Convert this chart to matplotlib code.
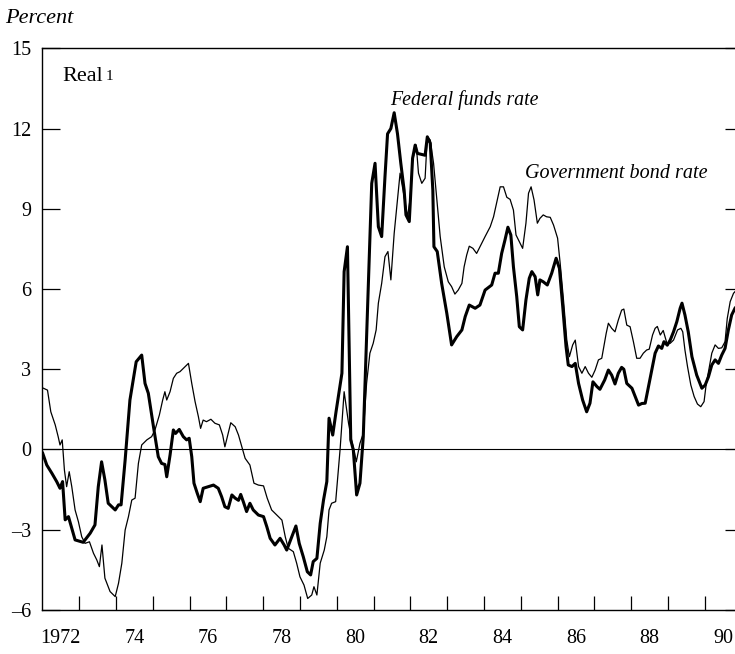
import matplotlib
matplotlib.use("Agg")
import matplotlib.pyplot as plt
import numpy as np

plt.rcParams["font.family"] = ["Liberation Serif", "DejaVu Serif"]

# Real federal funds rate (thick line), decimal years
ff_year = [1972.01, 1972.12, 1972.26, 1972.39, 1972.48, 1972.55, 1972.62, 1972.71, 1972.89,
           1973.11, 1973.30, 1973.43, 1973.52, 1973.61, 1973.70, 1973.79, 1973.98,
           1974.07, 1974.14, 1974.25, 1974.38, 1974.55, 1974.70, 1974.79, 1974.88,
           1975.02, 1975.15, 1975.24, 1975.33, 1975.38, 1975.47, 1975.56, 1975.62, 1975.72,
           1975.83, 1975.92, 1975.99, 1976.06, 1976.12, 1976.21, 1976.29, 1976.37, 1976.51,
           1976.65, 1976.78, 1976.87, 1976.96, 1977.05, 1977.15, 1977.24, 1977.33, 1977.39,
           1977.46, 1977.55, 1977.64, 1977.73, 1977.87, 1978.01, 1978.10, 1978.19, 1978.32,
           1978.46, 1978.57, 1978.64, 1978.78, 1978.89, 1978.98, 1979.09, 1979.20, 1979.29,
           1979.36, 1979.46, 1979.55, 1979.64, 1979.73, 1979.79, 1979.89, 1979.98, 1980.14,
           1980.20, 1980.29, 1980.38, 1980.45, 1980.54, 1980.63, 1980.72, 1980.95, 1981.04,
           1981.13, 1981.22, 1981.31, 1981.38, 1981.47, 1981.56, 1981.65, 1981.74, 1981.83,
           1981.88, 1981.97, 1982.06, 1982.13, 1982.19, 1982.31, 1982.40, 1982.46, 1982.54,
           1982.61, 1982.64, 1982.73, 1982.85, 1982.99, 1983.12, 1983.26, 1983.40, 1983.49,
           1983.60, 1983.76, 1983.89, 1984.03, 1984.21, 1984.30, 1984.39, 1984.48, 1984.57,
           1984.65, 1984.73, 1984.80, 1984.89, 1984.96, 1985.05, 1985.14, 1985.23, 1985.30,
           1985.39, 1985.46, 1985.52, 1985.61, 1985.72, 1985.84, 1985.96, 1986.05, 1986.14,
           1986.23, 1986.29, 1986.39, 1986.48, 1986.57, 1986.68, 1986.79, 1986.88, 1986.96,
           1987.07, 1987.15, 1987.28, 1987.38, 1987.47, 1987.56, 1987.65, 1987.74, 1987.80,
           1987.88, 1988.02, 1988.11, 1988.20, 1988.29, 1988.38, 1988.47, 1988.56, 1988.65,
           1988.74, 1988.83, 1988.89, 1988.98, 1989.06, 1989.15, 1989.24, 1989.33, 1989.38,
           1989.46, 1989.55, 1989.65, 1989.78, 1989.92, 1990.01, 1990.10, 1990.19, 1990.28,
           1990.37, 1990.46, 1990.55, 1990.64, 1990.73, 1990.82]
ff_rate = [-0.14, -0.58, -0.89, -1.20, -1.45, -1.20, -2.63, -2.51, -3.38,
           -3.47, -3.13, -2.82, -1.39, -0.46, -1.14, -2.01, -2.26,
           -2.07, -2.07, -0.39, 1.85, 3.28, 3.53, 2.47, 2.10,
           0.85, -0.27, -0.52, -0.56, -1.02, -0.21, 0.73, 0.60, 0.75,
           0.48, 0.36, 0.42, -0.27, -1.26, -1.64, -1.95, -1.45, -1.39,
           -1.33, -1.45, -1.76, -2.14, -2.20, -1.70, -1.82, -1.90, -1.68,
           -1.95, -2.32, -2.01, -2.26, -2.45, -2.51, -2.89, -3.32, -3.57,
           -3.32, -3.57, -3.76, -3.26, -2.86, -3.51, -4.01, -4.57, -4.69,
           -4.19, -4.07, -2.76, -1.89, -1.20, 1.17, 0.54, 1.41, 2.85,
           6.65, 7.58, 0.36, -0.02, -1.70, -1.26, 0.48, 9.95, 10.70,
           8.33, 7.96, 10.20, 11.80, 12.00, 12.59, 11.80, 10.70, 9.70,
           8.77, 8.52, 10.89, 11.38, 11.07, 11.03, 11.00, 11.69, 11.45,
           9.70, 7.58, 7.40, 6.21, 5.09, 3.91, 4.22, 4.47, 4.97,
           5.40, 5.28, 5.40, 5.96, 6.15, 6.59, 6.59, 7.33, 7.83,
           8.31, 8.02, 6.83, 5.71, 4.59, 4.47, 5.59, 6.40, 6.65,
           6.46, 5.78, 6.34, 6.27, 6.15, 6.59, 7.15, 6.77, 5.34,
           3.84, 3.16, 3.10, 3.22, 2.47, 1.85, 1.41, 1.73, 2.53,
           2.35, 2.25, 2.60, 2.97, 2.78, 2.45, 2.85, 3.07, 3.00,
           2.47, 2.29, 1.98, 1.66, 1.72, 1.73, 2.35, 2.97, 3.60,
           3.87, 3.78, 4.03, 3.90, 4.09, 4.40, 4.78, 5.28, 5.47,
           5.03, 4.40, 3.47, 2.78, 2.29, 2.41, 2.72, 3.16, 3.35,
           3.22, 3.53, 3.78, 4.47, 5.03, 5.28]

# Real government bond rate (thin line)
gb_year = [1972.03, 1972.14, 1972.23, 1972.35, 1972.43, 1972.48, 1972.54, 1972.60, 1972.66,
           1972.73, 1972.80, 1972.89, 1972.98, 1973.07, 1973.16, 1973.28, 1973.39, 1973.48,
           1973.55, 1973.62, 1973.70, 1973.84, 1973.98, 1974.07, 1974.16, 1974.25, 1974.34,
           1974.43, 1974.52, 1974.61, 1974.70, 1974.84, 1974.97, 1975.06, 1975.18, 1975.27,
           1975.33, 1975.38, 1975.47, 1975.56, 1975.65, 1975.74, 1975.83, 1975.97, 1976.06,
           1976.15, 1976.24, 1976.30, 1976.37, 1976.46, 1976.58, 1976.69, 1976.81, 1976.90,
           1976.96, 1977.05, 1977.12, 1977.24, 1977.33, 1977.42, 1977.51, 1977.64, 1977.75,
           1977.87, 1978.01, 1978.11, 1978.23, 1978.37, 1978.51, 1978.60, 1978.68, 1978.82,
           1978.91, 1979.00, 1979.11, 1979.21, 1979.32, 1979.38, 1979.46, 1979.55, 1979.66,
           1979.73, 1979.79, 1979.86, 1979.97, 1980.09, 1980.20, 1980.32, 1980.41, 1980.48,
           1980.53, 1980.63, 1980.72, 1980.81, 1980.90, 1980.99, 1981.07, 1981.13, 1981.22,
           1981.31, 1981.39, 1981.47, 1981.56, 1981.65, 1981.72, 1981.80, 1981.92, 1981.99,
           1982.06, 1982.16, 1982.22, 1982.31, 1982.40, 1982.46, 1982.54, 1982.63, 1982.72,
           1982.81, 1982.92, 1983.03, 1983.12, 1983.21, 1983.30, 1983.40, 1983.46, 1983.53,
           1983.60, 1983.70, 1983.80, 1983.89, 1984.03, 1984.17, 1984.26, 1984.35, 1984.44,
           1984.53, 1984.62, 1984.71, 1984.80, 1984.87, 1984.96, 1985.05, 1985.14, 1985.21,
           1985.28, 1985.36, 1985.45, 1985.52, 1985.61, 1985.70, 1985.80, 1985.89, 1986.00,
           1986.07, 1986.16, 1986.25, 1986.32, 1986.41, 1986.48, 1986.57, 1986.66, 1986.75,
           1986.84, 1986.93, 1987.02, 1987.11, 1987.20, 1987.32, 1987.38, 1987.47, 1987.56,
           1987.65, 1987.74, 1987.80, 1987.88, 1987.97, 1988.06, 1988.15, 1988.24, 1988.33,
           1988.42, 1988.49, 1988.58, 1988.65, 1988.71, 1988.79, 1988.87, 1988.97, 1989.06,
           1989.15, 1989.26, 1989.35, 1989.40, 1989.46, 1989.53, 1989.62, 1989.71, 1989.80,
           1989.89, 1989.98, 1990.04, 1990.10, 1990.19, 1990.28, 1990.37, 1990.46, 1990.55,
           1990.61, 1990.69, 1990.78, 1990.82]
gb_rate = [2.29, 2.22, 1.41, 0.92, 0.48, 0.17, 0.36, -0.77, -1.39,
           -0.83, -1.39, -2.26, -2.70, -3.26, -3.51, -3.45, -3.88, -4.13,
           -4.38, -3.57, -4.81, -5.31, -5.50, -5.00, -4.25, -3.01, -2.51,
           -1.89, -1.82, -0.52, 0.17, 0.36, 0.48, 0.73, 1.29, 1.85,
           2.16, 1.85, 2.16, 2.66, 2.85, 2.91, 3.03, 3.22, 2.47,
           1.79, 1.23, 0.79, 1.10, 1.04, 1.13, 0.98, 0.92, 0.54,
           0.10, 0.60, 1.00, 0.85, 0.54, 0.10, -0.33, -0.58, -1.26,
           -1.33, -1.36, -1.82, -2.26, -2.45, -2.64, -3.26, -3.69, -3.82,
           -4.25, -4.76, -5.07, -5.57, -5.44, -5.13, -5.44, -4.25, -3.76,
           -3.26, -2.26, -2.01, -1.95, 0.00, 2.16, 0.98, 0.30, -0.10,
           -0.46, 0.23, 0.60, 2.47, 3.60, 3.97, 4.47, 5.47, 6.21,
           7.21, 7.40, 6.34, 8.08, 9.33, 10.33, 9.70, 8.70, 9.33,
           10.82, 11.38, 10.33, 9.95, 10.14, 11.69, 11.57, 10.70, 9.33,
           7.96, 6.83, 6.27, 6.09, 5.81, 5.96, 6.21, 6.83, 7.27,
           7.60, 7.52, 7.33, 7.58, 7.96, 8.33, 8.70, 9.26, 9.82,
           9.82, 9.43, 9.35, 8.95, 8.02, 7.77, 7.52, 8.46, 9.58,
           9.82, 9.33, 8.46, 8.64, 8.77, 8.70, 8.68, 8.39, 7.90,
           6.96, 5.59, 4.09, 3.47, 3.91, 4.09, 3.10, 2.85, 3.10,
           2.85, 2.70, 2.97, 3.35, 3.41, 4.34, 4.72, 4.53, 4.40,
           4.84, 5.21, 5.25, 4.65, 4.59, 4.03, 3.41, 3.41, 3.60,
           3.72, 3.75, 4.28, 4.53, 4.60, 4.28, 4.45, 3.97, 3.97,
           4.09, 4.47, 4.53, 4.40, 3.72, 3.10, 2.41, 1.98, 1.70,
           1.60, 1.79, 2.47, 2.91, 3.60, 3.91, 3.78, 3.80, 4.03,
           4.90, 5.53, 5.84, 5.90]

year_labels = ["1972", "74", "76", "78", "80", "82", "84", "86", "88", "90"]
label_years = [1972, 1974, 1976, 1978, 1980, 1982, 1984, 1986, 1988, 1990]
y_ticks = [-6, -3, 0, 3, 6, 9, 12, 15]

fig = plt.figure(figsize=(7.35, 6.54), dpi=100)
# right edge sits just past the figure, like the cropped original
ax = fig.add_axes([0.0576, 0.0673, 0.9534, 0.8589])

ax.plot(gb_year, gb_rate, color="black", lw=0.9)
ax.plot(ff_year, ff_rate, color="black", lw=2.2)
ax.axhline(0, color="black", lw=0.8)

ax.set_xlim(1972, 1991.04)
ax.set_ylim(-6, 15)

ax.set_yticks(y_ticks)
ax.set_yticklabels([str(v).replace("-", "\u2013") for v in y_ticks])
ax.tick_params(axis="y", direction="in", length=13, width=0.9, right=True,
               labelsize=14.5, pad=8)

ax.set_xticks(np.arange(1973, 1992))
ax.set_xticklabels([])
ax.set_xticks([y + 0.5 for y in label_years], minor=True)
ax.set_xticklabels(year_labels, minor=True)
ax.tick_params(axis="x", which="major", direction="in", length=10, width=0.9)
ax.tick_params(axis="x", which="minor", length=0, labelsize=14.5, pad=14)

for s in ax.spines.values():
    s.set_linewidth(1.0)

fig.text(0.007, 0.972, "Percent", fontsize=16, style="italic", va="center")
real = ax.text(1972.55, 13.95, "Real", fontsize=16, va="center")
ax.annotate("1", xy=(1.0, 0.85), xycoords=real, xytext=(1.5, 0),
            textcoords="offset points", ha="left", va="top", fontsize=11)
ax.text(1981.45, 13.07, "Federal funds rate", fontsize=14.3, style="italic", va="center")
ax.text(1985.11, 10.3, "Government bond rate", fontsize=14.5, style="italic", va="center")

fig.savefig("out.png", dpi=100)
